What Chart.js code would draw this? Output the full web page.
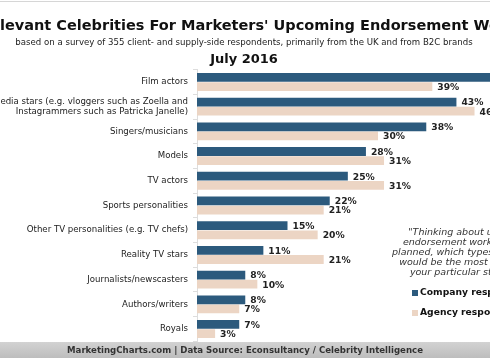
<!DOCTYPE html>
<html>
<head>
<meta charset="utf-8">
<script src="https://cdn.jsdelivr.net/npm/chart.js@4/dist/chart.umd.min.js"></script>
<style>
  html, body { margin: 0; padding: 0; background: #fff; overflow: hidden; }
  #wrap { width: 560px; height: 360px; position: relative; }
</style>
</head>
<body>
<div id="wrap"><canvas id="chart" width="560" height="360"></canvas></div>
<script>
// ── Data ────────────────────────────────────────────────────
const categories = [
    'Film actors',
    ['Social media stars (e.g. vloggers such as Zoella and', 'Instagrammers such as Patricka Janelle)'],
    'Singers/musicians',
    'Models',
    'TV actors',
    'Sports personalities',
    'Other TV personalities (e.g. TV chefs)',
    'Reality TV stars',
    'Journalists/newscasters',
    'Authors/writers',
    'Royals'
];
const companyValues = [52, 43, 38, 28, 25, 22, 15, 11, 8, 8, 7];
const agencyValues  = [39, 46, 30, 31, 31, 21, 20, 21, 10, 7, 3];
const seriesNames = ['Company respondents', 'Agency respondents'];
const seriesColors = ['#2c5a7d', '#ecd5c4'];

const titleText = "Most Relevant Celebrities For Marketers' Upcoming Endorsement Work";
const subtitleText = 'based on a survey of 355 client- and supply-side respondents, primarily from the UK and from B2C brands';
const dateText = 'July 2016';
const noteLines = [
    '"Thinking about upcoming',
    'endorsement work you have',
    'planned, which types of celebrity',
    'would be the most relevant to',
    'your particular strategy?"'
];
const footerText = 'MarketingCharts.com | Data Source: Econsultancy / Celebrity Intelligence';

const FONT = '"DejaVu Sans", Verdana, sans-serif';

// ── Decorations (titles, note, legend, footer) ──────────────
const decor = {
    id: 'decor',
    beforeDraw(chart) {
        const c = chart.ctx;
        c.save();
        c.fillStyle = '#fff';
        c.fillRect(0, 0, chart.width, chart.height);
        c.fillStyle = '#d6d6d6';
        c.fillRect(0, 1, chart.width, 1);

        c.fillStyle = '#111';
        c.textBaseline = 'middle';
        c.font = 'bold 14.5px ' + FONT;
        c.textAlign = 'left';
        const skip = c.measureText('Most Re').width;
        c.fillText(titleText, -skip, 26);

        c.font = '8.6px ' + FONT;
        c.textAlign = 'center';
        c.fillStyle = '#222';
        c.fillText(subtitleText, 244, 43);

        c.font = 'bold 13px ' + FONT;
        c.fillStyle = '#111';
        c.fillText(dateText, 244, 60);

        // footer band
        const g = c.createLinearGradient(0, 342, 0, 358);
        g.addColorStop(0, '#d2d2d2');
        g.addColorStop(1, '#bdbdbd');
        c.fillStyle = g;
        c.fillRect(0, 342, chart.width, 16);
        c.font = 'bold 8.6px ' + FONT;
        c.fillStyle = '#333';
        c.fillText(footerText, 245, 351);
        c.restore();
    },
    afterDraw(chart) {
        const c = chart.ctx;
        c.save();
        c.textBaseline = 'middle';
        c.textAlign = 'center';
        c.font = 'italic 9.5px ' + FONT;
        c.fillStyle = '#333';
        noteLines.forEach((l, i) => c.fillText(l, 471, 233 + i * 10));

        c.textAlign = 'left';
        c.font = 'bold 9.2px ' + FONT;
        seriesNames.forEach((n, i) => {
            const y = 293 + i * 20;
            c.fillStyle = seriesColors[i];
            c.fillRect(412, y - 3, 6, 6);
            c.fillStyle = '#111';
            c.fillText(n, 420, y);
        });
        c.restore();
    }
};

// ── Value labels at bar ends ────────────────────────────────
const valueLabels = {
    id: 'valueLabels',
    afterDatasetsDraw(chart) {
        const c = chart.ctx;
        c.save();
        c.font = 'bold 9.2px ' + FONT;
        c.fillStyle = '#222';
        c.textAlign = 'left';
        c.textBaseline = 'middle';
        chart.data.datasets.forEach((ds, di) => {
            chart.getDatasetMeta(di).data.forEach((bar, i) => {
                c.fillText(ds.data[i] + '%', bar.x + 5, bar.y + 1);
            });
        });
        c.restore();
    }
};

new Chart(document.getElementById('chart'), {
    type: 'bar',
    data: {
        labels: categories,
        datasets: [
            { label: seriesNames[0], data: companyValues, backgroundColor: seriesColors[0] },
            { label: seriesNames[1], data: agencyValues, backgroundColor: seriesColors[1] }
        ]
    },
    options: {
        indexAxis: 'y',
        responsive: false,
        animation: false,
        devicePixelRatio: 1,
        categoryPercentage: 0.74,
        barPercentage: 0.96,
        layout: { padding: { top: 69.6, bottom: 18.6, left: 0, right: 1 } },
        scales: {
            x: { display: false, min: 0, max: 60 },
            y: {
                afterFit(scale) { scale.width = 197; },
                border: { color: '#dddddd' },
                grid: { drawOnChartArea: false, tickLength: 4, color: '#dddddd', offset: true },
                ticks: {
                    color: '#222',
                    font: { family: FONT, size: 8.6 },
                    padding: 5,
                    autoSkip: false
                }
            }
        },
        plugins: {
            legend: { display: false },
            tooltip: { enabled: false }
        }
    },
    plugins: [decor, valueLabels]
});
</script>
</body>
</html>
